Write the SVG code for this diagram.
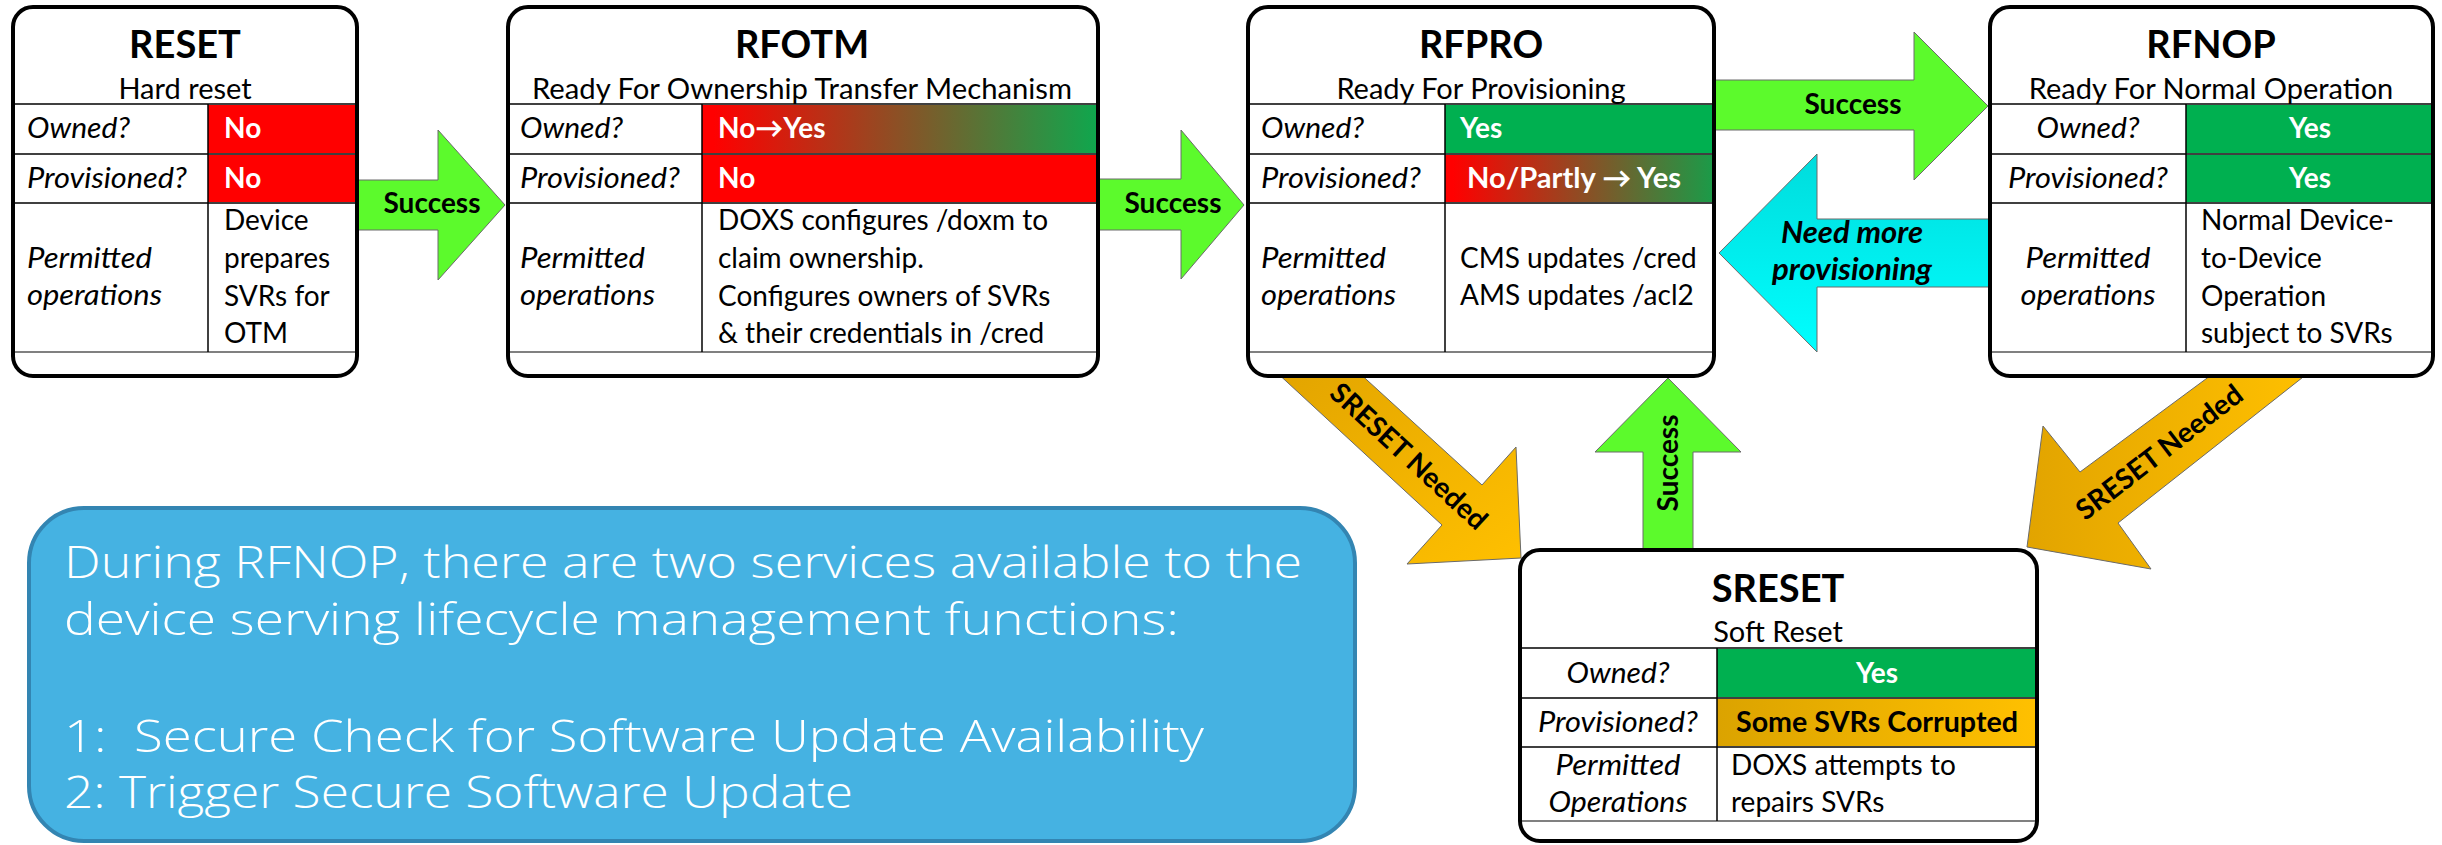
<svg xmlns="http://www.w3.org/2000/svg" width="2442" height="845" viewBox="0 0 2442 845">
<style>
.bg{fill:#fff}
.box{fill:#fff;stroke:#000;stroke-width:4}
.t{font-family:Lato,"Liberation Sans",sans-serif;fill:#000}
.title{font-size:38px;font-weight:700;text-anchor:middle}
.sub{font-size:29px;text-anchor:middle}
.lbl{font-size:29px;font-style:italic}
.val{font-size:28px;font-weight:700;fill:#fff}
.ops{font-size:28px}
.mid{text-anchor:middle}
.hl{stroke:#404040;stroke-width:2}
.hl2{stroke:#808080;stroke-width:2}
.vl{stroke:#000;stroke-width:1.5}
.red{fill:#ff0000}
.green{fill:#00b050}
.ag{fill:#5cfa2c;stroke:#6a6a6a;stroke-width:1}
.ac{fill:url(#gCyan);stroke:#6a6a6a;stroke-width:1}
.al{font-size:28px;font-weight:700;text-anchor:middle}
.ai{font-size:30px;font-weight:700;font-style:italic;text-anchor:middle}
.note{fill:#45b2e2;stroke:#3385b2;stroke-width:4}
.nt{font-family:"Open Sans",Lato,sans-serif;font-weight:300;font-size:44px;fill:#fff}
</style>
<defs>
<linearGradient id="gOwn" x1="0" y1="0" x2="1" y2="0">
<stop offset="0.03" stop-color="#ff0000"/><stop offset="1" stop-color="#10a64d"/>
</linearGradient>
<linearGradient id="gProv" x1="0" y1="0" x2="1" y2="0">
<stop offset="0.03" stop-color="#ff0000"/><stop offset="1" stop-color="#1c9a48"/>
</linearGradient>
<linearGradient id="gOrCell" x1="0" y1="0" x2="1" y2="0">
<stop offset="0" stop-color="#dba300"/><stop offset="1" stop-color="#ffc000"/>
</linearGradient>
<linearGradient id="gOrL" x1="0" y1="0" x2="1" y2="1">
<stop offset="0" stop-color="#e2a400"/><stop offset="1" stop-color="#ffc000"/>
</linearGradient>
<linearGradient id="gOrR" x1="0" y1="0" x2="1" y2="0">
<stop offset="0" stop-color="#e2a400"/><stop offset="1" stop-color="#ffc000"/>
</linearGradient>
<linearGradient id="gCyan" x1="0" y1="0" x2="0" y2="1">
<stop offset="0" stop-color="#00dcdc"/><stop offset="1" stop-color="#00ffff"/>
</linearGradient>
</defs>
<rect class="bg" x="0" y="0" width="2442" height="845"/>

<g id="connectors">
<g id="c-reset-rfotm">
<polygon class="ag" points="350,180 438,180 438,130 505,205 438,280 438,230 350,230"/>
<text class="t al" x="432" y="213">Success</text>
</g>
<g id="c-rfotm-rfpro">
<polygon class="ag" points="1090,179 1181,179 1181,130 1244,205 1181,279 1181,230 1090,230"/>
<text class="t al" x="1173" y="213">Success</text>
</g>
<g id="c-rfpro-rfnop">
<polygon class="ag" points="1705,80 1914,80 1914,32 1988,106 1914,180 1914,130 1705,130"/>
<text class="t al" x="1853" y="114">Success</text>
</g>
<g id="c-rfnop-rfpro">
<polygon class="ac" points="1998,219 1817,219 1817,154 1719,253 1817,352 1817,287 1998,287"/>
<text class="t ai" x="1852" y="243" textLength="142" lengthAdjust="spacingAndGlyphs">Need more</text>
<text class="t ai" x="1852" y="280" textLength="160" lengthAdjust="spacingAndGlyphs">provisioning</text>
</g>
<g id="c-rfpro-sreset">
<polygon fill="url(#gOrL)" stroke="#6a6a6a" stroke-width="1" points="1274,370 1442,525 1407,564 1521,558 1516,447 1482,485 1356,370"/>
<text class="t al" transform="translate(1409,456) rotate(42.6)" x="0" y="10">SRESET Needed</text>
</g>
<g id="c-rfnop-sreset">
<polygon fill="url(#gOrR)" stroke="#6a6a6a" stroke-width="1" points="2218,370 2080,472 2043,426 2027,547 2151,569 2118,523 2312,370"/>
<text class="t al" transform="translate(2159,452) rotate(-37.5)" x="0" y="10">SRESET Needed</text>
</g>
<g id="c-sreset-rfpro">
<polygon class="ag" points="1643,556 1643,452 1595,452 1668,378 1741,452 1693,452 1693,556"/>
<text class="t al" transform="translate(1668,463) rotate(-90)" x="0" y="10">Success</text>
</g>
</g>

<g id="node-reset">
<rect class="box" x="13" y="7" width="344" height="369" rx="20"/>
<rect class="red" x="208" y="104" width="147" height="50"/>
<rect class="red" x="208" y="154" width="147" height="49"/>
<line class="hl" x1="15" y1="104" x2="355" y2="104"/>
<line class="hl" x1="15" y1="154" x2="355" y2="154"/>
<line class="hl" x1="15" y1="203" x2="355" y2="203"/>
<line class="hl2" x1="15" y1="352" x2="355" y2="352"/>
<line class="vl" x1="208" y1="104" x2="208" y2="352"/>
<text class="t title" x="185" y="58">RESET</text>
<text class="t sub" x="185" y="99">Hard reset</text>
<text class="t lbl" x="27" y="138" textLength="103" lengthAdjust="spacingAndGlyphs">Owned?</text>
<text class="t lbl" x="27" y="188" textLength="160" lengthAdjust="spacingAndGlyphs">Provisioned?</text>
<text class="t lbl" x="27" y="268" textLength="125" lengthAdjust="spacingAndGlyphs">Permitted</text>
<text class="t lbl" x="27" y="305" textLength="135" lengthAdjust="spacingAndGlyphs">operations</text>
<text class="t val" x="224" y="138">No</text>
<text class="t val" x="224" y="188">No</text>
<text class="t ops" x="224" y="230">Device</text>
<text class="t ops" x="224" y="268">prepares</text>
<text class="t ops" x="224" y="306">SVRs for</text>
<text class="t ops" x="224" y="343">OTM</text>
</g>

<g id="node-rfotm">
<rect class="box" x="508" y="7" width="590" height="369" rx="20"/>
<rect fill="url(#gOwn)" x="702" y="104" width="394" height="50"/>
<rect class="red" x="702" y="154" width="394" height="49"/>
<line class="hl" x1="510" y1="104" x2="1096" y2="104"/>
<line class="hl" x1="510" y1="154" x2="1096" y2="154"/>
<line class="hl" x1="510" y1="203" x2="1096" y2="203"/>
<line class="hl2" x1="510" y1="352" x2="1096" y2="352"/>
<line class="vl" x1="702" y1="104" x2="702" y2="352"/>
<text class="t title" x="802" y="58">RFOTM</text>
<text class="t sub" x="802" y="99" textLength="540" lengthAdjust="spacingAndGlyphs">Ready For Ownership Transfer Mechanism</text>
<text class="t lbl" x="520" y="138" textLength="103" lengthAdjust="spacingAndGlyphs">Owned?</text>
<text class="t lbl" x="520" y="188" textLength="160" lengthAdjust="spacingAndGlyphs">Provisioned?</text>
<text class="t lbl" x="520" y="268" textLength="125" lengthAdjust="spacingAndGlyphs">Permitted</text>
<text class="t lbl" x="520" y="305" textLength="135" lengthAdjust="spacingAndGlyphs">operations</text>
<text class="t val" x="718" y="138">No→Yes</text>
<text class="t val" x="718" y="188">No</text>
<text class="t ops" x="718" y="230">DOXS configures /doxm to</text>
<text class="t ops" x="718" y="268">claim ownership.</text>
<text class="t ops" x="718" y="306">Configures owners of SVRs</text>
<text class="t ops" x="718" y="343">&amp; their credentials in /cred</text>
</g>

<g id="node-rfpro">
<rect class="box" x="1248" y="7" width="466" height="369" rx="20"/>
<rect class="green" x="1445" y="104" width="267" height="50"/>
<rect fill="url(#gProv)" x="1445" y="154" width="267" height="49"/>
<line class="hl" x1="1250" y1="104" x2="1712" y2="104"/>
<line class="hl" x1="1250" y1="154" x2="1712" y2="154"/>
<line class="hl" x1="1250" y1="203" x2="1712" y2="203"/>
<line class="hl2" x1="1250" y1="352" x2="1712" y2="352"/>
<line class="vl" x1="1445" y1="104" x2="1445" y2="352"/>
<text class="t title" x="1481" y="58">RFPRO</text>
<text class="t sub" x="1481" y="99">Ready For Provisioning</text>
<text class="t lbl" x="1261" y="138" textLength="103" lengthAdjust="spacingAndGlyphs">Owned?</text>
<text class="t lbl" x="1261" y="188" textLength="160" lengthAdjust="spacingAndGlyphs">Provisioned?</text>
<text class="t lbl" x="1261" y="268" textLength="125" lengthAdjust="spacingAndGlyphs">Permitted</text>
<text class="t lbl" x="1261" y="305" textLength="135" lengthAdjust="spacingAndGlyphs">operations</text>
<text class="t val" x="1460" y="138">Yes</text>
<text class="t val" x="1467" y="188" textLength="214" lengthAdjust="spacingAndGlyphs">No/Partly → Yes</text>
<text class="t ops" x="1460" y="268">CMS updates /cred</text>
<text class="t ops" x="1460" y="305">AMS updates /acl2</text>
</g>

<g id="node-rfnop">
<rect class="box" x="1990" y="7" width="443" height="369" rx="20"/>
<rect class="green" x="2186" y="104" width="245" height="50"/>
<rect class="green" x="2186" y="154" width="245" height="49"/>
<line class="hl" x1="1992" y1="104" x2="2431" y2="104"/>
<line class="hl" x1="1992" y1="154" x2="2431" y2="154"/>
<line class="hl" x1="1992" y1="203" x2="2431" y2="203"/>
<line class="hl2" x1="1992" y1="352" x2="2431" y2="352"/>
<line class="vl" x1="2186" y1="104" x2="2186" y2="352"/>
<text class="t title" x="2211" y="58">RFNOP</text>
<text class="t sub" x="2211" y="99">Ready For Normal Operation</text>
<text class="t lbl mid" x="2088" y="138" textLength="103" lengthAdjust="spacingAndGlyphs">Owned?</text>
<text class="t lbl mid" x="2088" y="188" textLength="160" lengthAdjust="spacingAndGlyphs">Provisioned?</text>
<text class="t lbl mid" x="2088" y="268" textLength="125" lengthAdjust="spacingAndGlyphs">Permitted</text>
<text class="t lbl mid" x="2088" y="305" textLength="135" lengthAdjust="spacingAndGlyphs">operations</text>
<text class="t val mid" x="2310" y="138">Yes</text>
<text class="t val mid" x="2310" y="188">Yes</text>
<text class="t ops" x="2201" y="230">Normal Device-</text>
<text class="t ops" x="2201" y="268">to-Device</text>
<text class="t ops" x="2201" y="306">Operation</text>
<text class="t ops" x="2201" y="343">subject to SVRs</text>
</g>

<g id="node-sreset">
<rect class="box" x="1520" y="550" width="517" height="291" rx="20"/>
<rect class="green" x="1717" y="648" width="318" height="50"/>
<rect fill="url(#gOrCell)" x="1717" y="698" width="318" height="49"/>
<line class="hl" x1="1522" y1="648" x2="2035" y2="648"/>
<line class="hl" x1="1522" y1="698" x2="2035" y2="698"/>
<line class="hl" x1="1522" y1="747" x2="2035" y2="747"/>
<line class="hl2" x1="1522" y1="821" x2="2035" y2="821"/>
<line class="vl" x1="1717" y1="648" x2="1717" y2="821"/>
<text class="t title" x="1778" y="602">SRESET</text>
<text class="t sub" x="1778" y="642">Soft Reset</text>
<text class="t lbl mid" x="1618" y="683" textLength="103" lengthAdjust="spacingAndGlyphs">Owned?</text>
<text class="t lbl mid" x="1618" y="732" textLength="160" lengthAdjust="spacingAndGlyphs">Provisioned?</text>
<text class="t lbl mid" x="1618" y="775" textLength="125" lengthAdjust="spacingAndGlyphs">Permitted</text>
<text class="t lbl mid" x="1618" y="812" textLength="139" lengthAdjust="spacingAndGlyphs">Operations</text>
<text class="t val mid" x="1877" y="683">Yes</text>
<text class="t val mid" x="1877" y="732" style="fill:#000" textLength="282" lengthAdjust="spacingAndGlyphs">Some SVRs Corrupted</text>
<text class="t ops" x="1731" y="775">DOXS attempts to</text>
<text class="t ops" x="1731" y="812">repairs SVRs</text>
</g>

<g id="node-note">
<rect class="note" x="29" y="508" width="1326" height="333" rx="55"/>
<text class="nt" x="64" y="578" textLength="1238" lengthAdjust="spacingAndGlyphs">During RFNOP, there are two services available to the</text>
<text class="nt" x="64" y="635" textLength="1115" lengthAdjust="spacingAndGlyphs">device serving lifecycle management functions:</text>
<text class="nt" x="64" y="752" textLength="1140" lengthAdjust="spacingAndGlyphs" xml:space="preserve">1:  Secure Check for Software Update Availability</text>
<text class="nt" x="64" y="808" textLength="789" lengthAdjust="spacingAndGlyphs">2: Trigger Secure Software Update</text>
</g>
</svg>
